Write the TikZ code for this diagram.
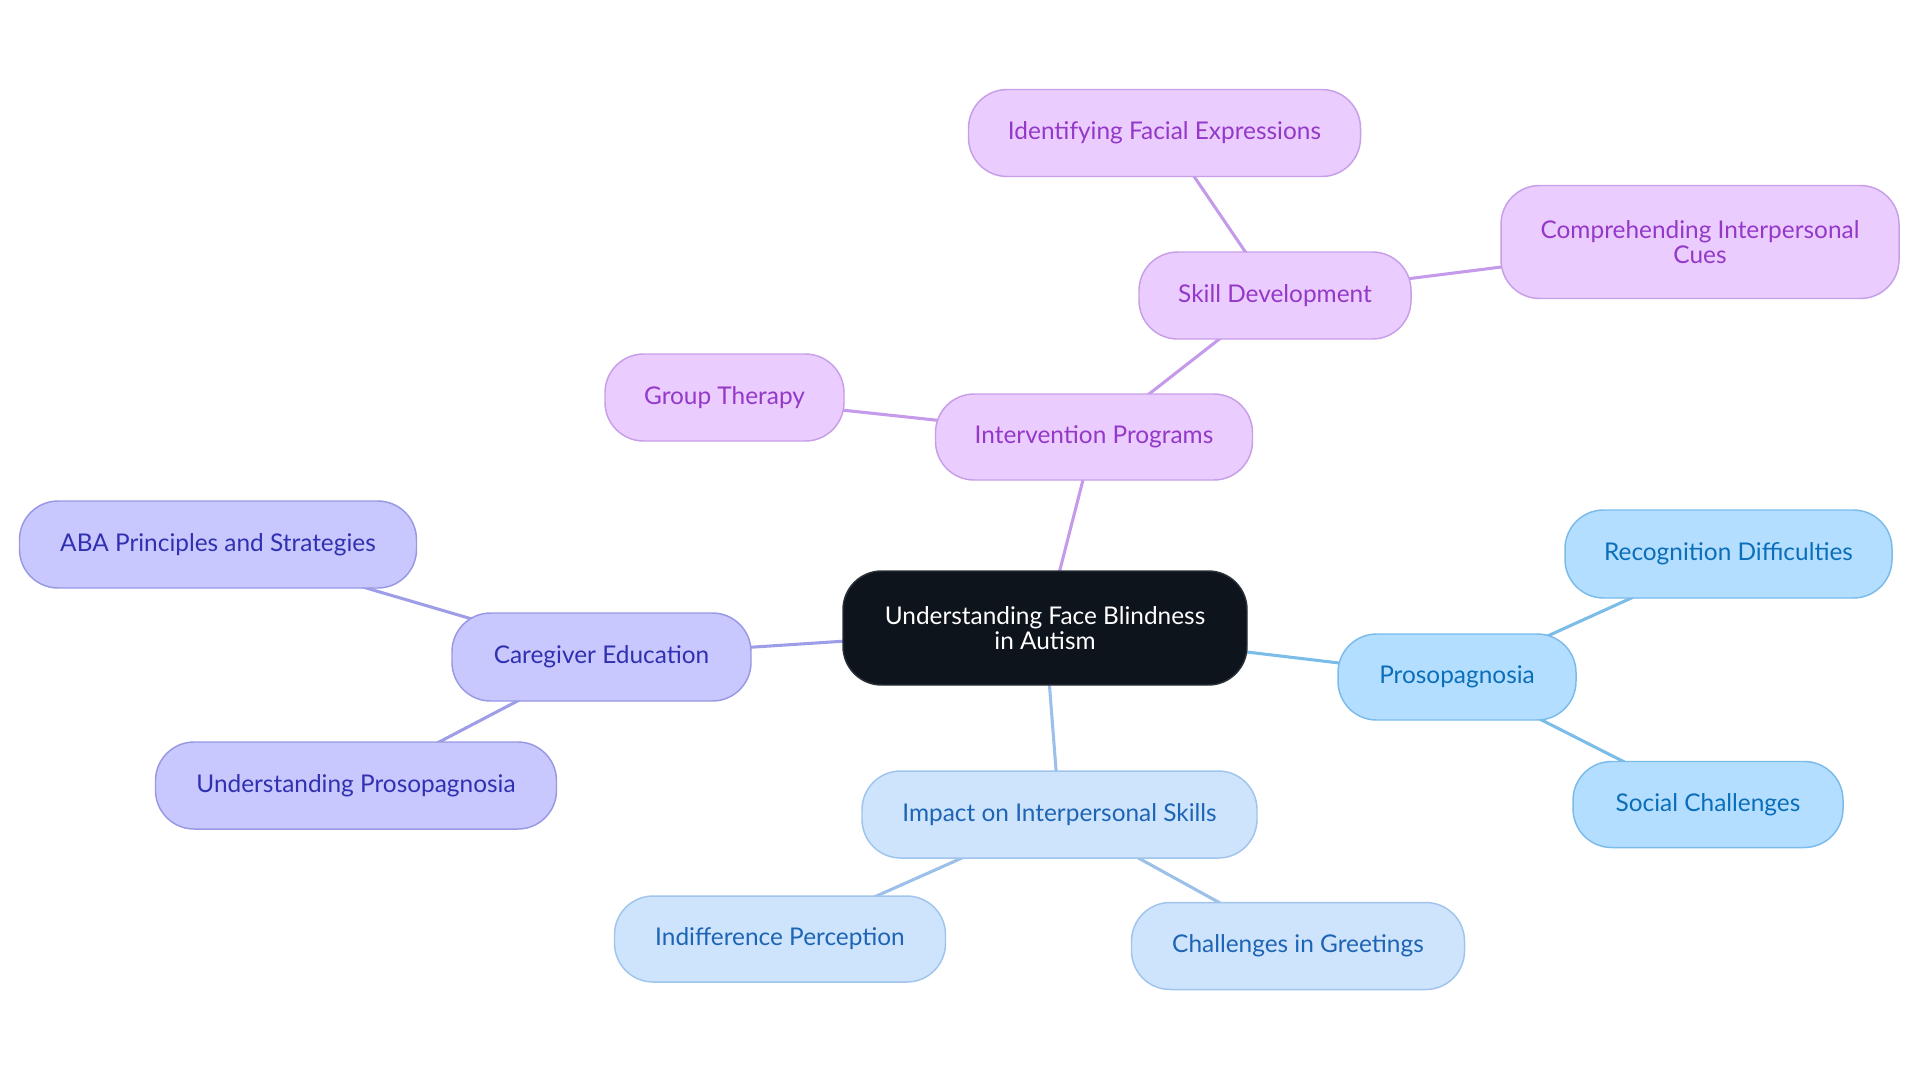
\documentclass[tikz,border=0pt]{standalone}
\usepackage{fontspec}
\setmainfont{Lato}
\usetikzlibrary{backgrounds}
\definecolor{pfill}{HTML}{EACCFF}
\definecolor{pdraw}{HTML}{C79EE8}
\definecolor{ptext}{HTML}{9438C8}
\definecolor{pedge}{HTML}{C59AEB}
\definecolor{ifill}{HTML}{C8C8FF}
\definecolor{idraw}{HTML}{9898E4}
\definecolor{itext}{HTML}{3030B0}
\definecolor{iedge}{HTML}{9E9EE8}
\definecolor{bfill}{HTML}{B4DEFF}
\definecolor{bdraw}{HTML}{7ABBEA}
\definecolor{btext}{HTML}{0A6EB8}
\definecolor{bedge}{HTML}{7BBDE8}
\definecolor{lfill}{HTML}{CDE4FC}
\definecolor{ldraw}{HTML}{A0C4EC}
\definecolor{ltext}{HTML}{1E64B4}
\definecolor{ledge}{HTML}{9CC0EA}
\definecolor{rfill}{HTML}{0D141C}
\definecolor{rdraw}{HTML}{2A3038}
\tikzset{
  mm/.style={rectangle, rounded corners=29pt, inner sep=0pt, align=center, line width=1.1pt,
    font=\fontsize{18.3pt}{19.3pt}\selectfont},
  bx/.style 2 args={minimum width=#1*0.75pt, minimum height=#2*0.75pt},
  rootnode/.style={mm, fill=rfill, draw=rdraw, text=white},
  pnode/.style={mm, fill=pfill, draw=pdraw, text=ptext},
  inode/.style={mm, fill=ifill, draw=idraw, text=itext},
  bnode/.style={mm, fill=bfill, draw=bdraw, text=btext},
  lnode/.style={mm, fill=lfill, draw=ldraw, text=ltext},
  edge/.style={line width=2.3pt, draw=#1},
}
\begin{document}
\begin{tikzpicture}[x=0.75pt, y=-0.75pt]
\useasboundingbox (0,0) rectangle (1920,1083);
\node[rootnode, bx={404}{114}] (root) at (1045,628) {Understanding Face Blindness\\in Autism};
% purple branch
\node[pnode, bx={317}{86}] (int) at (1094,437) {Intervention Programs};
\node[pnode, bx={272}{87}] (skill) at (1275,295.5) {Skill Development};
\node[pnode, bx={392}{87}] (ident) at (1164.5,133) {Identifying Facial Expressions};
\node[pnode, bx={398}{113}] (comp) at (1700,242) {Comprehending Interpersonal\\Cues};
\node[pnode, bx={239}{87}] (group) at (724.5,397.5) {Group Therapy};
% indigo branch
\node[inode, bx={299}{88}] (care) at (601.5,657) {Caregiver Education};
\node[inode, bx={397}{87}] (aba) at (218,544.5) {ABA Principles and Strategies};
\node[inode, bx={401}{87}] (under) at (356,785.5) {Understanding Prosopagnosia};
% blue branch
\node[bnode, bx={238}{86}] (pros) at (1457,677) {Prosopagnosia};
\node[bnode, bx={327}{88}] (recog) at (1728.5,554) {Recognition Difficulties};
\node[bnode, bx={270}{86}] (social) at (1708,804.5) {Social Challenges};
% light blue branch
\node[lnode, bx={395}{87}] (impact) at (1059.5,814.5) {Impact on Interpersonal Skills};
\node[lnode, bx={331}{86}] (indiff) at (780,939) {Indifference Perception};
\node[lnode, bx={333}{87}] (greet) at (1298,946) {Challenges in Greetings};
\begin{pgfonlayer}{background}
\draw[edge=pedge] (root.center) -- (int.center);
\draw[edge=pedge] (int.center) -- (skill.center);
\draw[edge=pedge] (skill.center) -- (ident.center);
\draw[edge=pedge] (skill.center) -- (comp.center);
\draw[edge=pedge] (int.center) -- (group.center);
\draw[edge=iedge] (root.center) -- (care.center);
\draw[edge=iedge] (care.center) -- (aba.center);
\draw[edge=iedge] (care.center) -- (under.center);
\draw[edge=bedge] (root.center) -- (pros.center);
\draw[edge=bedge] (pros.center) -- (recog.center);
\draw[edge=bedge] (pros.center) -- (social.center);
\draw[edge=ledge] (root.center) -- (impact.center);
\draw[edge=ledge] (impact.center) -- (indiff.center);
\draw[edge=ledge] (impact.center) -- (greet.center);
\end{pgfonlayer}
\end{tikzpicture}
\end{document}
